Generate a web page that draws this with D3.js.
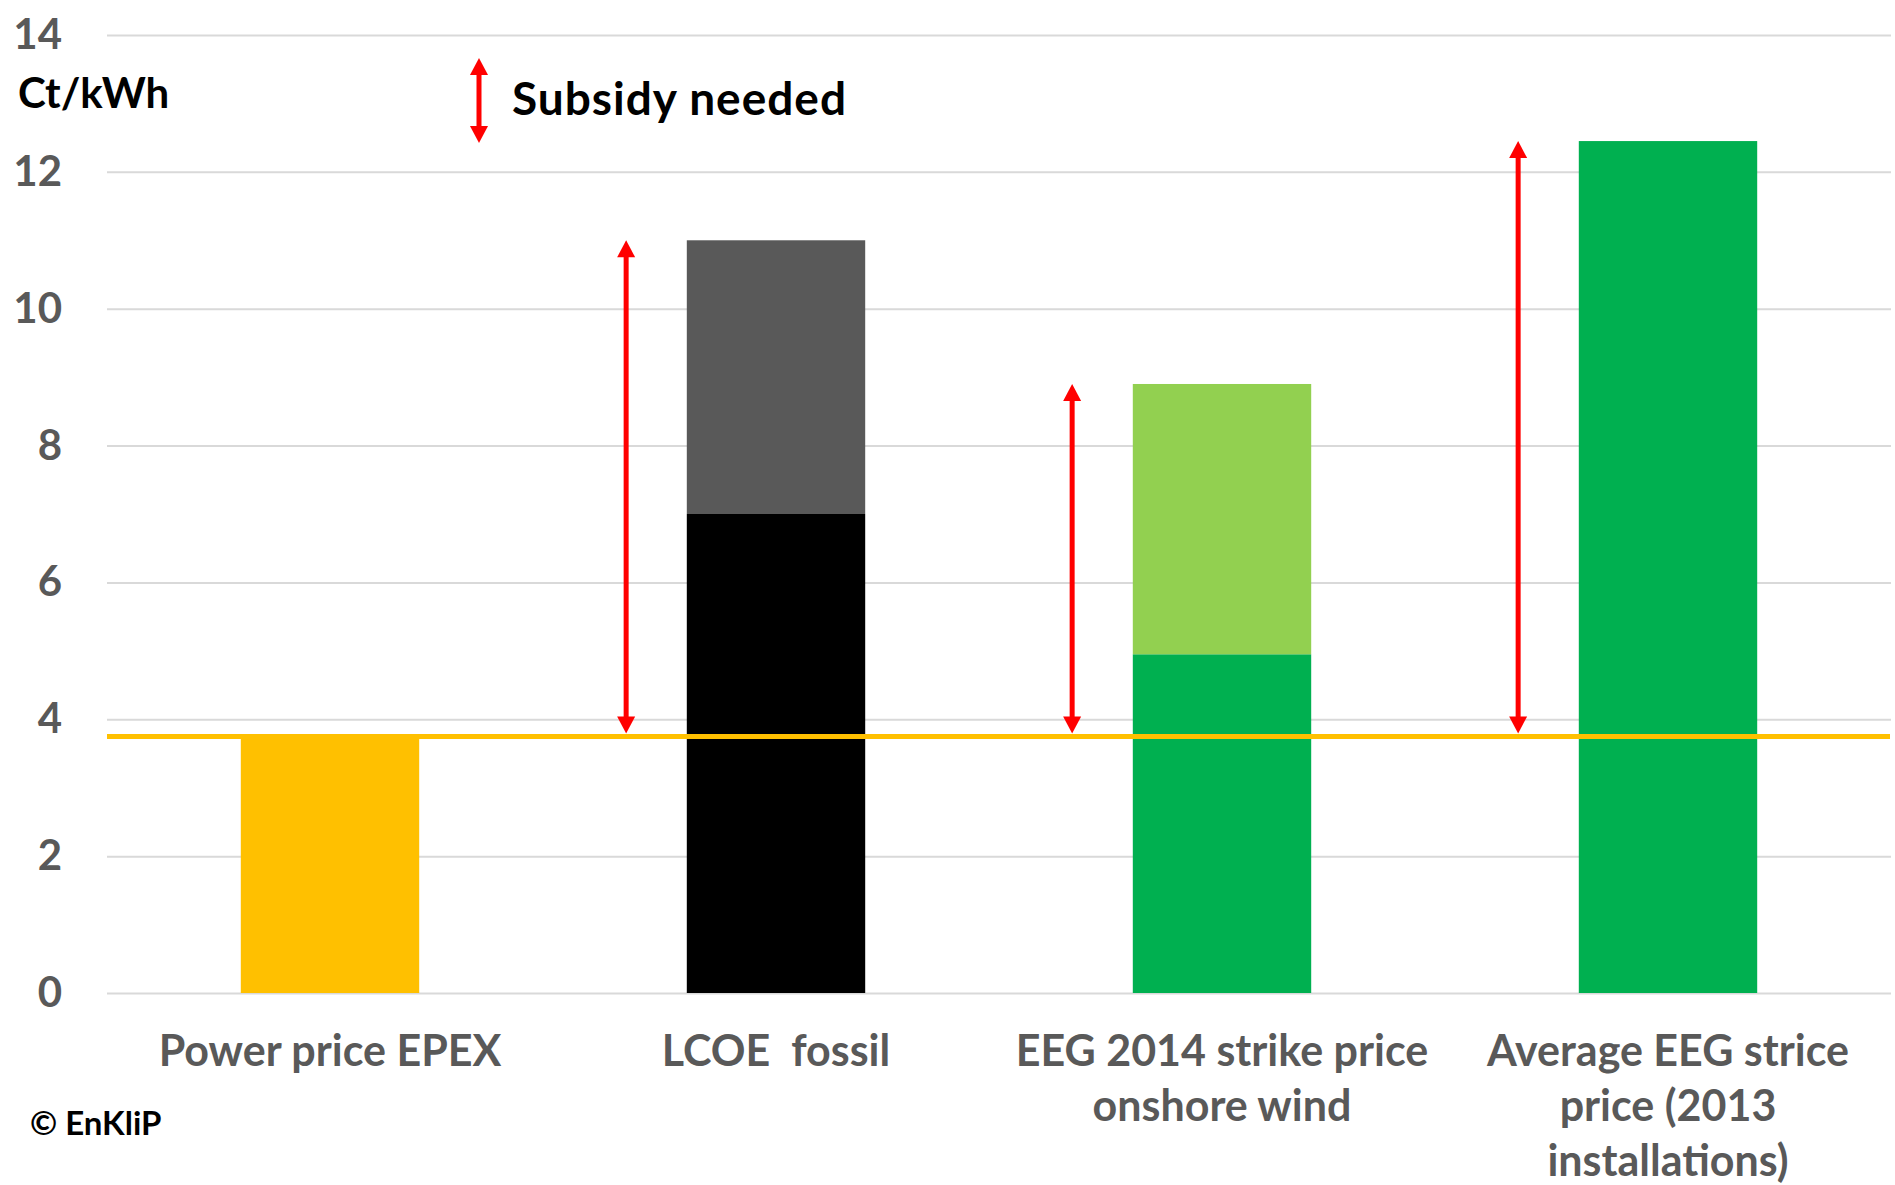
<!DOCTYPE html>
<html>
<head>
<meta charset="utf-8">
<script src="https://cdn.jsdelivr.net/npm/d3@7"></script>
<style>
  html, body { margin: 0; padding: 0; background: #fff; }
  svg text { font-family: Lato, "Open Sans", sans-serif; font-weight: 700; white-space: pre; }
</style>
</head>
<body>
<svg id="chart" width="1895" height="1185"></svg>
<script>
// Categories and their label lines
const categories = ["Power price EPEX", "LCOE  fossil", "EEG 2014 strike price onshore wind", "Average EEG strice price (2013 installations)"];
const categoryLines = [["Power price EPEX"], ["LCOE  fossil"], ["EEG 2014 strike price", "onshore wind"], ["Average EEG strice", "price (2013", "installations)"]];

// Stacked values in Ct/kWh: lower segment and upper segment
const baseValues = [3.75, 7, 4.95, 12.45];
const upperValues = [0, 4, 3.95, 0];
const baseColors = ["#FFC000", "#000000", "#00B050", "#00B050"];
const upperColors = [null, "#595959", "#92D050", null];

// Reference wholesale power price (horizontal line)
const powerPrice = 3.75;
// Categories that get a "subsidy needed" arrow
const subsidyCategories = ["LCOE  fossil", "EEG 2014 strike price onshore wind", "Average EEG strice price (2013 installations)"];

const yTicks = [0, 2, 4, 6, 8, 10, 12, 14];

const svg = d3.select("#chart");
const plotLeft = 107, plotRight = 1891;

const x = d3.scaleBand().domain(categories).range([plotLeft, plotRight])
  .paddingInner(0.6).paddingOuter(0.3);
const y = d3.scaleLinear().domain([0, 14]).range([993, 35]);

// Gridlines + tick labels
const yAxis = svg.append("g").attr("transform", `translate(${plotLeft},0)`)
  .call(d3.axisLeft(y).tickValues(yTicks).tickSize(-(plotRight - plotLeft)).tickPadding(45).tickFormat(d3.format("d")));
yAxis.select(".domain").remove();
yAxis.selectAll(".tick line").attr("stroke", "#d9d9d9").attr("stroke-width", 2);
yAxis.selectAll(".tick text").attr("fill", "#595959").style("font-size", "42px")
  .style("font-family", "Lato, 'Open Sans', sans-serif").style("font-weight", 700);

const rows = categories.map((c, i) => ({ cat: c, base: baseValues[i], upper: upperValues[i], baseColor: baseColors[i], upperColor: upperColors[i] }));

// Lower segments
svg.append("g").selectAll("rect").data(rows).join("rect")
  .attr("x", d => x(d.cat)).attr("width", x.bandwidth())
  .attr("y", d => y(d.base)).attr("height", d => y(0) - y(d.base))
  .attr("fill", d => d.baseColor);

// Upper segments
svg.append("g").selectAll("rect").data(rows.filter(d => d.upper > 0)).join("rect")
  .attr("x", d => x(d.cat)).attr("width", x.bandwidth())
  .attr("y", d => y(d.base + d.upper)).attr("height", d => y(d.base) - y(d.base + d.upper))
  .attr("fill", d => d.upperColor);

// Power price line
svg.append("line")
  .attr("x1", plotLeft).attr("x2", plotRight - 1)
  .attr("y1", y(powerPrice)).attr("y2", y(powerPrice))
  .attr("stroke", "#FFC000").attr("stroke-width", 5);

// Double-headed red arrow
function doubleArrow(g, cx, yTop, yBottom) {
  const head = 17, half = 9;
  g.append("line").attr("x1", cx).attr("x2", cx)
    .attr("y1", yTop + head - 2).attr("y2", yBottom - head + 2)
    .attr("stroke", "#FF0000").attr("stroke-width", 5);
  g.append("path").attr("fill", "#FF0000")
    .attr("d", `M${cx},${yTop} L${cx + half},${yTop + head} L${cx - half},${yTop + head} Z`);
  g.append("path").attr("fill", "#FF0000")
    .attr("d", `M${cx},${yBottom} L${cx + half},${yBottom - head} L${cx - half},${yBottom - head} Z`);
}

const arrows = svg.append("g");
rows.filter(d => subsidyCategories.includes(d.cat)).forEach(d => {
  const cx = x(d.cat) - x.bandwidth() * 0.34;
  doubleArrow(arrows, cx, y(d.base + d.upper), y(powerPrice) - 3);
});

// Category labels
const labels = svg.append("g").attr("fill", "#595959").style("font-size", "43px");
categories.forEach((c, i) => {
  const cx = x(c) + x.bandwidth() / 2;
  const t = labels.append("text").attr("text-anchor", "middle").attr("x", cx).attr("y", 1066);
  categoryLines[i].forEach((line, j) => {
    t.append("tspan").attr("x", cx).attr("dy", j === 0 ? 0 : 55).text(line);
  });
});

// Unit label
svg.append("text").attr("x", 18).attr("y", 108).attr("fill", "#000").style("font-size", "42px").text("Ct/kWh");

// Legend
doubleArrow(svg.append("g"), 479, 58, 143);
svg.append("text").attr("x", 512).attr("y", 115).attr("fill", "#000")
  .style("font-size", "46px").style("letter-spacing", "1px").text("Subsidy needed");

// Source
svg.append("text").attr("x", 30).attr("y", 1135).attr("fill", "#000").style("font-size", "33px").text("© EnKliP");
</script>
</body>
</html>
